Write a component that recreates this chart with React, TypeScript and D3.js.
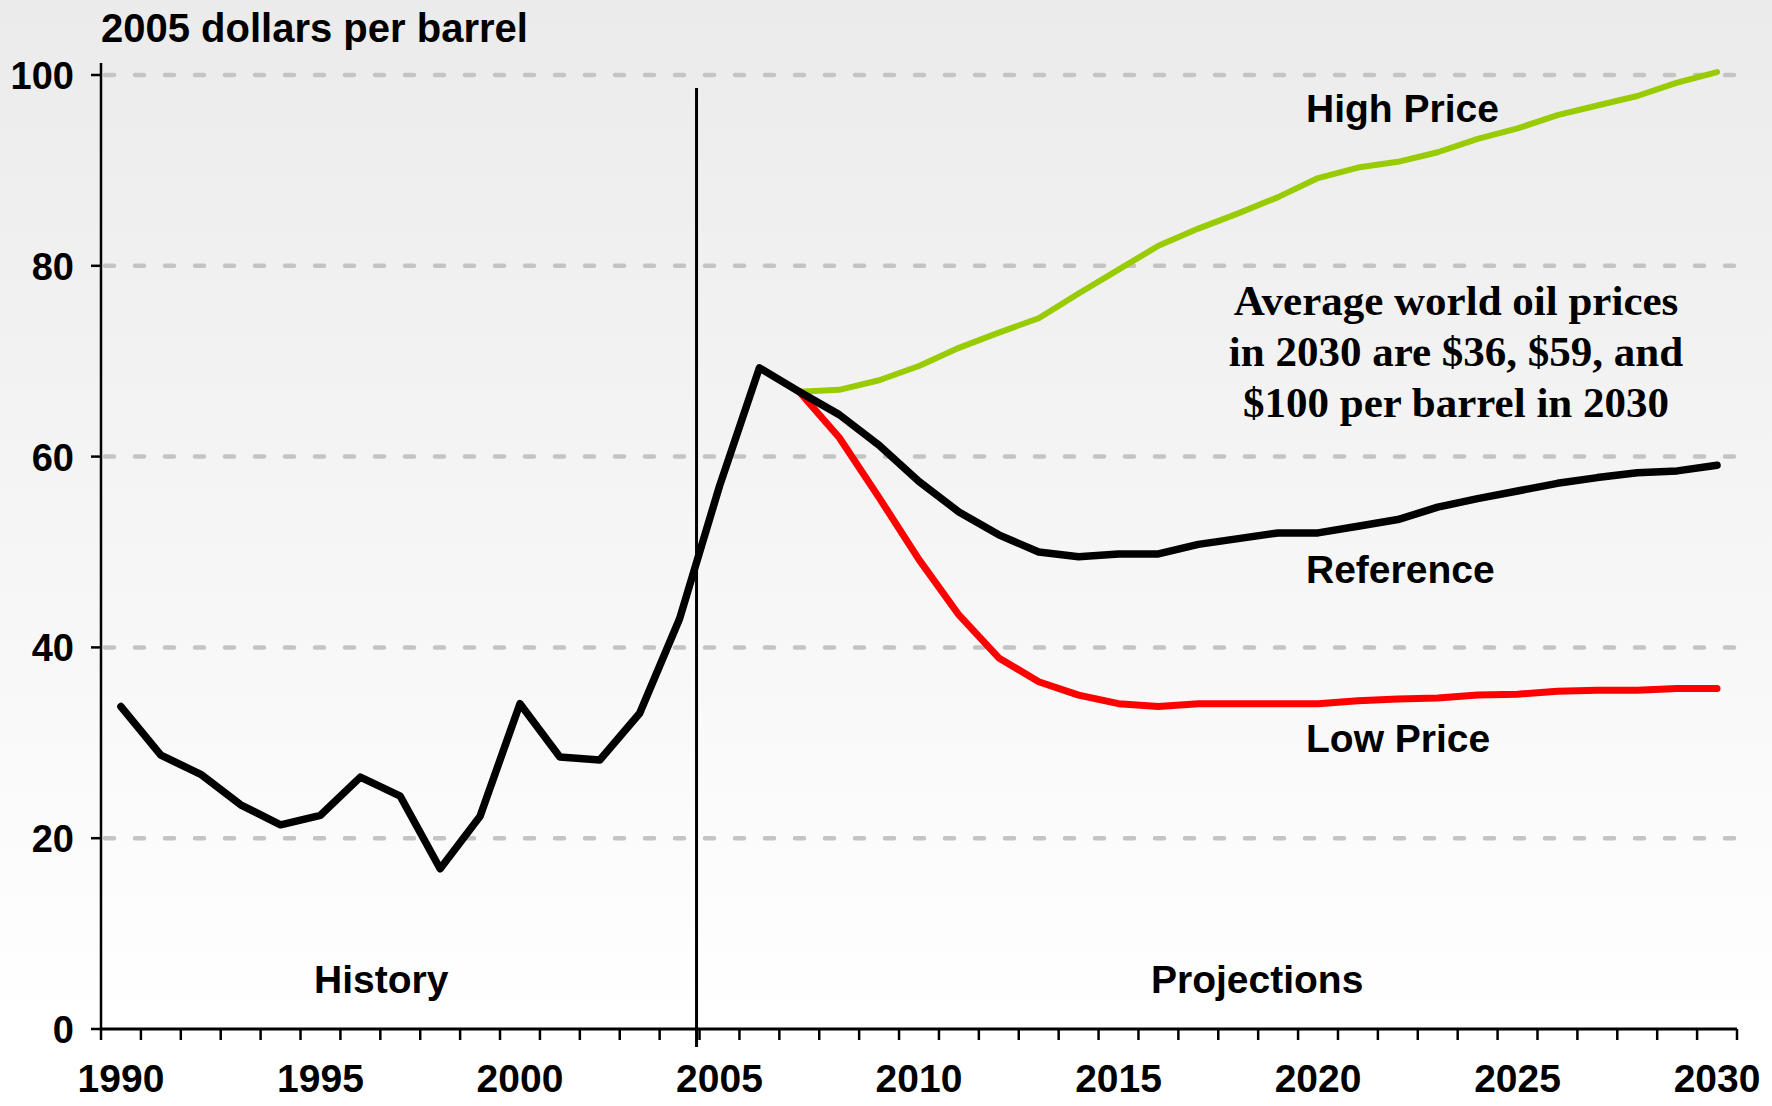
import React, { useRef, useEffect } from "react";
import * as d3 from "d3";

// categories
const years = [
  1990, 1991, 1992, 1993, 1994, 1995, 1996, 1997, 1998, 1999, 2000, 2001, 2002, 2003,
  2004, 2005, 2006, 2007, 2008, 2009, 2010, 2011, 2012, 2013, 2014, 2015, 2016, 2017,
  2018, 2019, 2020, 2021, 2022, 2023, 2024, 2025, 2026, 2027, 2028, 2029, 2030,
];
const tickYears = [1990, 1995, 2000, 2005, 2010, 2015, 2020, 2025, 2030];
const yTicks = [0, 20, 40, 60, 80, 100];
const gridTicks = [20, 40, 60, 80, 100];

// history 1990-2006
const historyYears = years.slice(0, 17);
const history = [33.8, 28.7, 26.7, 23.5, 21.4, 22.4, 26.4, 24.4, 16.8, 22.3, 34.1, 28.5, 28.2, 33.1, 43.0, 56.9, 69.3];

// projections 2007-2030
const projYears = years.slice(17);
const reference = [66.8, 64.4, 61.2, 57.4, 54.2, 51.8, 50.0, 49.5, 49.8, 49.8, 50.8, 51.4, 52.0, 52.0, 52.7, 53.4, 54.7, 55.6, 56.4, 57.2, 57.8, 58.3, 58.5, 59.1];
const lowPrice = [66.8, 62.0, 55.7, 49.2, 43.4, 38.9, 36.4, 35.0, 34.1, 33.8, 34.1, 34.1, 34.1, 34.1, 34.4, 34.6, 34.7, 35.0, 35.1, 35.4, 35.5, 35.5, 35.7, 35.7];
const highPrice = [66.8, 67.0, 68.0, 69.5, 71.4, 73.0, 74.5, 77.1, 79.6, 82.1, 83.9, 85.5, 87.2, 89.2, 90.3, 90.9, 91.9, 93.3, 94.4, 95.8, 96.8, 97.8, 99.2, 100.3];

const W = 1772;
const H = 1106;
const sans = "'Liberation Sans', Arial, sans-serif";
const serif = "'Liberation Serif', 'Times New Roman', serif";

export default function App() {
  const svgRef = useRef<SVGSVGElement>(null);

  useEffect(() => {
    document.body.style.margin = "0";
    const svg = d3.select(svgRef.current);
    svg.selectAll("*").remove();

    const left = 101, right = 1737, bottom = 1029, top = 75;

    const xBand = d3.scaleBand<number>().domain(years).range([left, right]).padding(0);
    const x = (yr: number) => xBand(yr)! + xBand.bandwidth() / 2;
    const y = d3.scaleLinear().domain([0, 100]).range([bottom, top]);

    // background
    const defs = svg.append("defs");
    const grad = defs.append("linearGradient").attr("id", "bg").attr("x1", 0).attr("y1", 0).attr("x2", 0).attr("y2", 1);
    grad.append("stop").attr("offset", "0%").attr("stop-color", "#ebebeb");
    grad.append("stop").attr("offset", "93%").attr("stop-color", "#ffffff");
    svg.append("rect").attr("width", W).attr("height", H).attr("fill", "url(#bg)");

    //Grids
    svg.append("g")
      .selectAll("line")
      .data(gridTicks)
      .join("line")
      .attr("x1", left + 4)
      .attr("x2", right)
      .attr("y1", (d) => y(d))
      .attr("y2", (d) => y(d))
      .attr("stroke", "#c4c4c4")
      .attr("stroke-width", 4.5)
      .attr("stroke-linecap", "round")
      .attr("stroke-dasharray", "9 21");

    // y axis
    svg.append("line")
      .attr("x1", left).attr("x2", left)
      .attr("y1", 63).attr("y2", bottom)
      .attr("stroke", "#000").attr("stroke-width", 2.5);
    svg.append("g")
      .selectAll("line")
      .data(yTicks)
      .join("line")
      .attr("x1", left - 10).attr("x2", left)
      .attr("y1", (d) => y(d)).attr("y2", (d) => y(d))
      .attr("stroke", "#000").attr("stroke-width", 2.5);
    svg.append("g")
      .selectAll("text")
      .data(yTicks)
      .join("text")
      .attr("x", 74)
      .attr("y", (d) => y(d) + 14)
      .attr("text-anchor", "end")
      .style("font-family", sans)
      .style("font-weight", "bold")
      .style("font-size", "38px")
      .text((d) => d);

    // x axis
    svg.append("line")
      .attr("x1", left).attr("x2", right)
      .attr("y1", bottom).attr("y2", bottom)
      .attr("stroke", "#000").attr("stroke-width", 3);
    const bounds = years.map((yr) => xBand(yr)!).concat([right]);
    svg.append("g")
      .selectAll("line")
      .data(bounds)
      .join("line")
      .attr("x1", (d) => d).attr("x2", (d) => d)
      .attr("y1", bottom).attr("y2", bottom + 11)
      .attr("stroke", "#000").attr("stroke-width", 2.5);
    svg.append("g")
      .selectAll("text")
      .data(tickYears)
      .join("text")
      .attr("x", (d) => x(d))
      .attr("y", 1092)
      .attr("text-anchor", "middle")
      .style("font-family", sans)
      .style("font-weight", "bold")
      .style("font-size", "39px")
      .text((d) => d);

    // history / projections divider
    const divX = xBand(2005)! - 3;
    svg.append("line")
      .attr("x1", divX).attr("x2", divX)
      .attr("y1", 88).attr("y2", 1047)
      .attr("stroke", "#000").attr("stroke-width", 3);

    const line = d3.line<[number, number]>()
      .x((d) => x(d[0]))
      .y((d) => y(d[1]));

    const pairs = (ys: number[], vs: number[]) => ys.map((yr, i) => [yr, vs[i]] as [number, number]);

    svg.append("path")
      .attr("d", line(pairs(projYears, highPrice)))
      .attr("fill", "none").attr("stroke", "#99cc00").attr("stroke-width", 6)
      .attr("stroke-linecap", "round").attr("stroke-linejoin", "round");
    svg.append("path")
      .attr("d", line(pairs(projYears, lowPrice)))
      .attr("fill", "none").attr("stroke", "#ff0000").attr("stroke-width", 7)
      .attr("stroke-linecap", "round").attr("stroke-linejoin", "round");
    svg.append("path")
      .attr("d", line(pairs(historyYears, history).concat(pairs(projYears, reference))))
      .attr("fill", "none").attr("stroke", "#000").attr("stroke-width", 7.5)
      .attr("stroke-linecap", "round").attr("stroke-linejoin", "round");

    // labels
    const labels = [
      { t: "2005 dollars per barrel", x: 101, y: 42, s: 40 },
      { t: "High Price", x: 1306, y: 122, s: 39 },
      { t: "Reference", x: 1306, y: 583, s: 39 },
      { t: "Low Price", x: 1306, y: 752, s: 39 },
      { t: "History", x: 314, y: 993, s: 39 },
      { t: "Projections", x: 1151, y: 993, s: 39 },
    ];
    svg.append("g")
      .selectAll("text")
      .data(labels)
      .join("text")
      .attr("x", (d) => d.x)
      .attr("y", (d) => d.y)
      .style("font-family", sans)
      .style("font-weight", "bold")
      .style("font-size", (d) => d.s + "px")
      .text((d) => d.t);

    const note = ["Average world oil prices", "in 2030 are $36, $59, and", "$100 per barrel in 2030"];
    svg.append("g")
      .selectAll("text")
      .data(note)
      .join("text")
      .attr("x", 1456)
      .attr("y", (d, i) => 315 + i * 51)
      .attr("text-anchor", "middle")
      .style("font-family", serif)
      .style("font-weight", "bold")
      .style("font-size", "43px")
      .text((d) => d);
  }, []);

  return (
    <svg ref={svgRef} width={W} height={H} style={{ display: "block" }} />
  );
}
